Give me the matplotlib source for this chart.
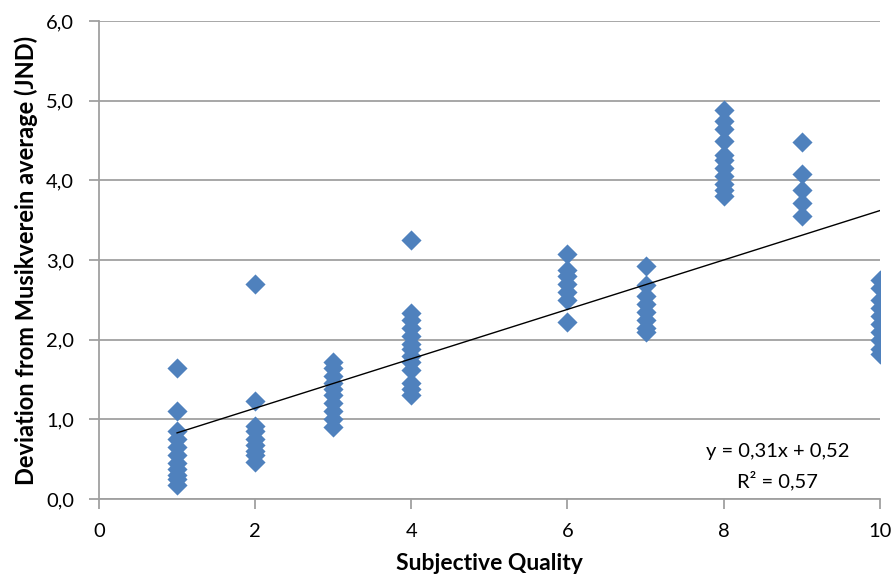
import matplotlib
matplotlib.use("Agg")
import matplotlib.pyplot as plt

plt.rcParams['font.family'] = ['Lato', 'DejaVu Sans']

# subjective quality levels and deviation values
q1 = [1.65, 1.10, 0.85, 0.75, 0.65, 0.55, 0.45, 0.38, 0.30, 0.25, 0.18]
q2 = [2.70, 1.23, 0.92, 0.85, 0.75, 0.68, 0.60, 0.55, 0.47]
q3 = [1.72, 1.65, 1.55, 1.45, 1.38, 1.30, 1.20, 1.10, 1.00, 0.90]
q4 = [3.25, 2.33, 2.25, 2.15, 2.05, 1.95, 1.88, 1.80, 1.72, 1.62, 1.45, 1.38, 1.30]
q6 = [3.07, 2.88, 2.80, 2.70, 2.60, 2.50, 2.22]
q7 = [2.93, 2.68, 2.55, 2.45, 2.35, 2.25, 2.15, 2.10]
q8 = [4.88, 4.75, 4.65, 4.50, 4.32, 4.25, 4.15, 4.05, 3.95, 3.88, 3.80]
q9 = [4.48, 4.08, 3.88, 3.72, 3.55]
q10 = [2.75, 2.65, 2.50, 2.40, 2.30, 2.20, 2.10, 2.00, 1.88, 1.82]

groups = {1: q1, 2: q2, 3: q3, 4: q4, 6: q6, 7: q7, 8: q8, 9: q9, 10: q10}

slope, intercept = 0.31, 0.52
r2 = 0.57
trend_x = [1, 10]

xs, ys = [], []
for q, vals in groups.items():
    xs += [q] * len(vals)
    ys += vals

fig = plt.figure(figsize=(8.95, 5.76), dpi=100)
ax = fig.add_axes([0.1106, 0.1337, 0.8724, 0.8298])

ax.scatter(xs, ys, marker='D', s=105, color='#4F81BD', zorder=3, linewidths=0)
ax.plot(trend_x, [slope * x + intercept for x in trend_x], color='black', lw=1, zorder=4)

ax.set_xlim(0, 10)
ax.set_ylim(0, 6)
ax.set_xticks(range(0, 11, 2))
ax.set_yticks(range(0, 7))
ax.set_yticklabels([f"{v:.1f}".replace('.', ',') for v in range(0, 7)])
ax.yaxis.grid(True, color='#A0A0A0', lw=1.3)
ax.set_axisbelow(True)
for s in ['top', 'right']:
    ax.spines[s].set_visible(False)
for s in ['left', 'bottom']:
    ax.spines[s].set_color('#A0A0A0')
    ax.spines[s].set_linewidth(1.3)
ax.tick_params(colors='#A0A0A0', labelcolor='black', labelsize=14.5, length=7, width=1.3)
ax.tick_params(axis='x', pad=10)
ax.tick_params(axis='y', pad=11)

ax.set_xlabel('Subjective Quality', fontsize=16.5, fontweight='bold', labelpad=10)
ax.set_ylabel('Deviation from Musikverein average (JND)', fontsize=17, fontweight='bold', labelpad=6)

ax.text(0.869, 0.1, f"y = {slope:.2f}x + {intercept:.2f}".replace('.', ','),
        transform=ax.transAxes, ha='center', va='center', fontsize=14.5)
ax.text(0.869, 0.038, f"R² = {r2:.2f}".replace('.', ','),
        transform=ax.transAxes, ha='center', va='center', fontsize=14.5)

fig.savefig('out.png', dpi=100)
